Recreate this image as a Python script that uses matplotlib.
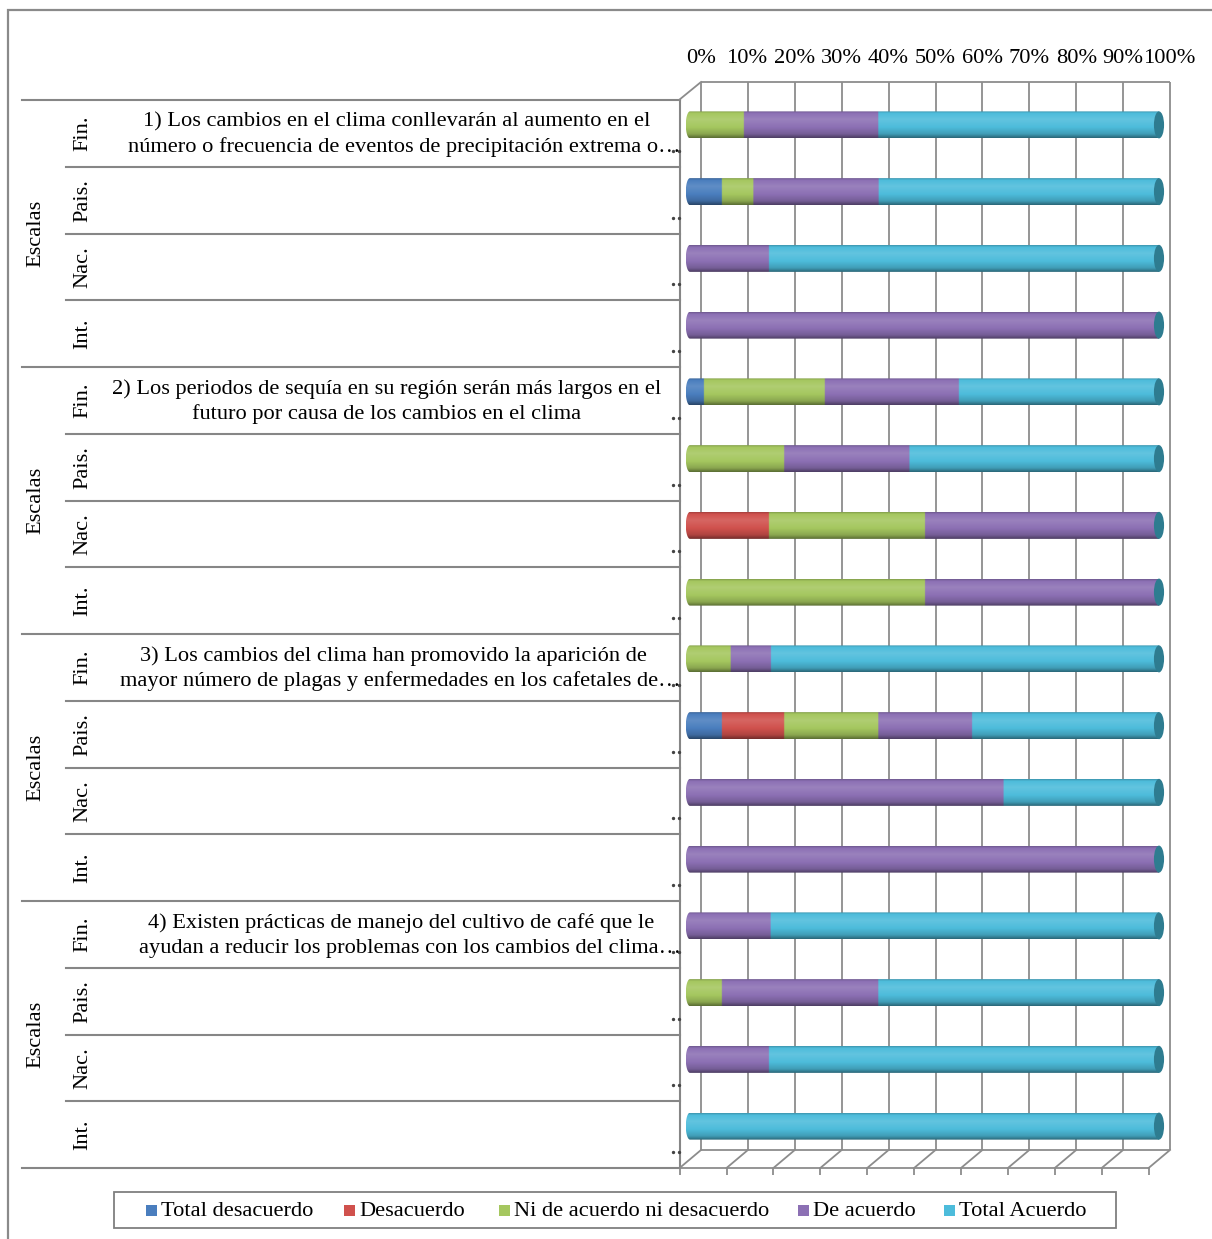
import numpy as np
import matplotlib
matplotlib.use("Agg")
import matplotlib.pyplot as plt
from matplotlib.path import Path
from matplotlib.patches import PathPatch, Ellipse, Rectangle
from matplotlib.colors import to_rgb

# ---------------- data ----------------
series = ["Total desacuerdo", "Desacuerdo", "Ni de acuerdo ni desacuerdo",
          "De acuerdo", "Total Acuerdo"]
series_colors = ["#4A7EBE", "#D0514D", "#A5C75F", "#8C70B4", "#4DBCDB"]
cap_color = "#2E7C90"

scales = ["Fin.", "Pais.", "Nac.", "Int."]
group_label = "Escalas"
questions = [
    ["1) Los cambios en el clima conllevarán al aumento en el",
     "número o frecuencia de eventos de precipitación extrema o…"],
    ["2) Los periodos de sequía en su región serán más largos en el",
     "futuro por causa de los cambios en el clima"],
    ["3) Los cambios del clima han promovido la aparición de",
     "mayor número de plagas y enfermedades en los cafetales de…"],
    ["4) Existen prácticas de manejo del cultivo de café que le",
     "ayudan a reducir los problemas con los cambios del clima…"],
]
tick_values = [0, 10, 20, 30, 40, 50, 60, 70, 80, 90, 100]
tick_labels = ["0%", "10%", "20%", "30%", "40%", "50%", "60%", "70%",
               "80%", "90%", "100%"]

# percentage per row: Q1..Q4, each with Fin., Pais., Nac., Int.
total_desacuerdo = [0, 6.7, 0, 0,    2.9, 0, 0, 0,       0, 6.7, 0, 0,     0, 0, 0, 0]
desacuerdo       = [0, 0, 0, 0,      0, 0, 16.7, 0,      0, 13.3, 0, 0,    0, 0, 0, 0]
ni_ni            = [11.4, 6.7, 0, 0, 25.7, 20.0, 33.3, 50.0, 8.6, 20.0, 0, 0, 0, 6.7, 0, 0]
de_acuerdo       = [28.6, 26.7, 16.7, 100, 28.6, 26.7, 50.0, 50.0,
                    8.6, 20.0, 66.7, 100, 17.1, 33.3, 16.7, 0]
total_acuerdo    = [60.0, 60.0, 83.3, 0, 42.9, 53.3, 0, 0,
                    82.9, 40.0, 33.3, 0, 82.9, 60.0, 83.3, 100]

values = np.array([total_desacuerdo, desacuerdo, ni_ni, de_acuerdo, total_acuerdo]).T

# ---------------- layout ----------------
W, H = 1212, 1239
PX0, PXS = 690.0, 4.69          # pixel of 0 % and pixels per percent (bar plane)
ROW_TOP, ROW_H = 100.0, 66.75   # first row top and row height in pixels
GREY = "#868686"
FONT = "Liberation Serif"
FS = 16.1
line_centers = [397, 387, 393, 401]

fig = plt.figure(figsize=(W / 100, H / 100), dpi=100)
fig.patch.set_facecolor("white")

# decoration layer in pixel units
deco = fig.add_axes([0, 0, 1, 1])
deco.set_xlim(0, W)
deco.set_ylim(H, 0)
deco.set_axis_off()

# outer frame
deco.plot([7.5, 7.5, W + 5], [H + 5, 9.5, 9.5], color="#8a8a8a", lw=1.6,
          solid_joinstyle="miter")

# table lines
n_rows = len(scales) * len(questions)
for r in range(n_rows + 1):
    y = ROW_TOP + r * ROW_H
    x_start = 22 if r % len(scales) == 0 else 66
    deco.plot([x_start, 679.5], [y, y], color=GREY, lw=1.5)
deco.plot([679.5, 679.5], [ROW_TOP, ROW_TOP + n_rows * ROW_H], color=GREY, lw=1.5)

for g, q in enumerate(questions):
    top = ROW_TOP + g * len(scales) * ROW_H
    deco.text(36, top + len(scales) * ROW_H / 2, group_label, rotation=90,
              ha="center", va="center", fontsize=FS, family=FONT)
    for k, s in enumerate(scales):
        deco.text(83, top + (k + 0.5) * ROW_H, s, rotation=90, ha="center",
                  va="center", fontsize=FS, family=FONT)
    for li, line in enumerate(q):
        y = top + 22 + li * 25
        if line.endswith("…"):
            deco.text(681, y, line, ha="right", va="center", fontsize=FS, family=FONT)
        else:
            deco.text(line_centers[g], y, line, ha="center", va="center",
                      fontsize=FS, family=FONT)

# legend
deco.add_patch(Rectangle((114, 1192), 1002, 36, facecolor="white",
                         edgecolor="#7f7f7f", lw=1.3))
legend_x = [146, 344, 499, 798, 944]
for lx, name, col in zip(legend_x, series, series_colors):
    deco.add_patch(Rectangle((lx, 1205), 10.5, 10.5, facecolor=col, edgecolor="none"))
    deco.text(lx + 15, 1212, name, ha="left", va="center", fontsize=FS, family=FONT)

# ---------------- bar plane ----------------
bx0, bx1, by0, by1 = 600, W, 30, 1200
ax = fig.add_axes([bx0 / W, 1 - by1 / H, (bx1 - bx0) / W, (by1 - by0) / H])
ax.set_xlim((bx0 - PX0) / PXS, (bx1 - PX0) / PXS)
ax.set_ylim((by1 - ROW_TOP) / ROW_H, (by0 - ROW_TOP) / ROW_H)
ax.set_axis_off()
ax.patch.set_alpha(0)


def X(px):
    return (px - PX0) / PXS


def Y(py):
    return (py - ROW_TOP) / ROW_H


ticks = np.array(tick_values, dtype=float)
back_dx, front_dx = X(701) - 0, X(679.6) - 0
y_wall_top, y_floor_back, y_floor_front = Y(82), Y(1150), Y(1168)
gkw = dict(color="#8c8c8c", lw=1.3, zorder=1)

ax.vlines(ticks + back_dx, y_wall_top, y_floor_back, **gkw)
ax.hlines(y_wall_top, back_dx, 100 + back_dx, **gkw)
ax.hlines(y_floor_back, back_dx, 100 + back_dx, **gkw)
ax.hlines(y_floor_front, front_dx, 100 + front_dx, **gkw)
for t in ticks:
    ax.plot([t + front_dx, t + back_dx], [y_floor_front, y_floor_back], **gkw)
ax.vlines(ticks + front_dx, y_floor_front, Y(1175), **gkw)
ax.plot([front_dx, back_dx], [Y(99.5), y_wall_top], **gkw)

for t, lab in zip(ticks, tick_labels):
    ax.text(t + back_dx, Y(58), lab, ha="center", va="center", fontsize=FS, family=FONT)

# small tick dots on the category axis
for r in range(n_rows):
    yd = Y(ROW_TOP + (r + 1) * ROW_H - 16)
    ax.plot([X(672.5), X(678.5)], [yd, yd], ls="none", marker="o", ms=1.4,
            color="#444444", zorder=2)

# cylinder bars
bar_h = 27 / ROW_H
bar_shift = -8.5 / ROW_H
a_end = 0.9   # half-width of the end ellipses in percent units
M, N = 60, 1400
tt = np.linspace(0, 1, M)
shade = np.interp(tt, [0, 0.07, 0.3, 0.6, 0.85, 1.0],
                  [0.80, 1.0, 1.06, 1.0, 0.84, 0.55])
base = np.array([to_rgb(c) for c in series_colors])
xs = np.linspace(-a_end, 100, N)

for r in range(n_rows):
    vals = values[r]
    cum = np.cumsum(vals)
    seg = np.searchsorted(cum, xs, side="right")
    seg = np.clip(seg, 0, len(vals) - 1)
    first = int(np.nonzero(vals)[0][0])
    last = int(np.nonzero(vals)[0][-1])
    seg[xs < 0] = first
    seg[seg > last] = last
    cols = base[seg]                               # N x 3
    f = shade[:, None, None]
    img = np.where(f >= 1, cols[None] + (1 - cols[None]) * (f - 1) * 2.0,
                   cols[None] * f)
    img = np.clip(img, 0, 1)

    yc = r + 0.5 + bar_shift
    ytop, ybot = yc - bar_h / 2, yc + bar_h / 2
    im = ax.imshow(img, extent=(-a_end, 100, ybot, ytop), origin="upper",
                   aspect="auto", interpolation="bilinear", zorder=3)
    th = np.linspace(np.pi / 2, 3 * np.pi / 2, 40)
    left = np.column_stack([a_end * np.cos(th), yc - bar_h / 2 * np.sin(th)])
    verts = np.vstack([[[0, ytop]], left, [[0, ybot], [100, ybot], [100, ytop], [0, ytop]]])
    clip = PathPatch(Path(verts), transform=ax.transData, facecolor="none",
                     edgecolor="none")
    ax.add_patch(clip)
    im.set_clip_path(clip)
    ax.add_patch(Ellipse((100, yc), 2 * a_end * 1.2, bar_h, facecolor=cap_color,
                         edgecolor="none", zorder=4))

fig.savefig("out.png", dpi=100, facecolor="white")
